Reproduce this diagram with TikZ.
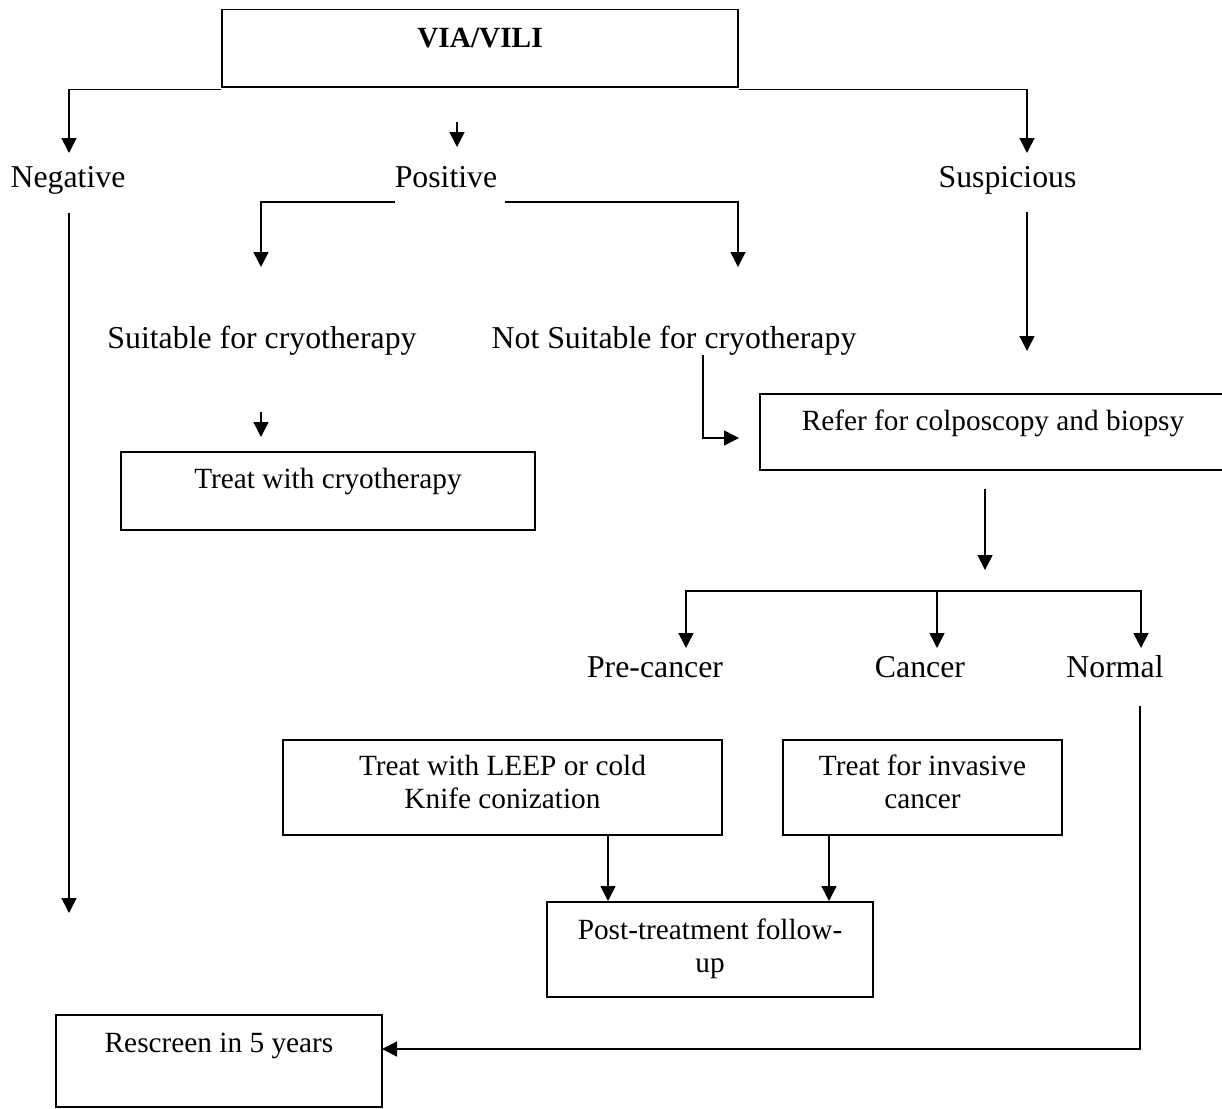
\documentclass[tikz,border=0pt]{standalone}
\usepackage{fontspec}
\setmainfont{Liberation Serif}
\usetikzlibrary{arrows.meta}
\tikzset{
  lw/.style={line width=1.5pt},
  arr/.style={lw, -{Triangle[length=15pt,width=15pt]}},
  plain/.style={font=\fontsize{31.8}{36}\selectfont, inner sep=0pt, anchor=base},
  box/.style={draw, lw, inner sep=0pt, anchor=north, font=\fontsize{29.3}{33}\selectfont},
}
\begin{document}
\begin{tikzpicture}[x=1pt,y=-1pt]
\useasboundingbox (0,0) rectangle (1222,1108);
\fill[white] (0,0) rectangle (1222,1108);

% boxes
\node[box, minimum width=516pt, text height=38pt, text depth=39pt, font=\bfseries\fontsize{29.3}{33}\selectfont] (via) at (480,9) {VIA/VILI};
\node[box, minimum width=414pt, text height=37pt, text depth=41pt] (cryo) at (328,451) {Treat with cryotherapy};
\node[box, minimum width=466pt, text height=37pt, text depth=39pt] (refer) at (993,393) {Refer for colposcopy and biopsy};
\node[box, minimum width=439pt, text height=36pt, text depth=59pt] (leep) at (502.5,739) {\begin{tabular}[t]{@{}c@{}}Treat with LEEP or cold\\Knife conization\end{tabular}};
\node[box, minimum width=279pt, text height=36pt, text depth=59pt] (inv) at (922.5,739) {\begin{tabular}[t]{@{}c@{}}Treat for invasive\\cancer\end{tabular}};
\node[box, minimum width=326pt, text height=38pt, text depth=57pt] (post) at (710,901) {\begin{tabular}[t]{@{}c@{}}Post-treatment follow-\\up\end{tabular}};
\node[box, minimum width=326pt, text height=38pt, text depth=54pt] (resc) at (219,1014) {Rescreen in 5 years};

% plain labels
\node[plain] (neg) at (68,187) {Negative};
\node[plain] (pos) at (446,187) {Positive};
\node[plain] (susp) at (1007.5,187) {Suspicious};
\node[plain] (suit) at (262,348) {Suitable for cryotherapy};
\node[plain] (notsuit) at (674,348) {Not Suitable for cryotherapy};
\node[plain] (pre) at (655,677) {Pre-cancer};
\node[plain] (can) at (920,677) {Cancer};
\node[plain] (nor) at (1115,677) {Normal};

% coordinates
\coordinate (negtip) at (69,153);
\coordinate (susptip) at (1027,153);
\coordinate (posA) at (457,122);
\coordinate (posB) at (457,147);
\coordinate (pl) at (395,202);
\coordinate (pr) at (505,202);
\coordinate (suittip) at (261,267);
\coordinate (nstip) at (738,267);
\coordinate (negA) at (69,213);
\coordinate (negB) at (69,913);
\coordinate (suspA) at (1027,212);
\coordinate (suspB) at (1027,351);
\coordinate (cryA) at (261,412);
\coordinate (cryB) at (261,437);
\coordinate (nsA) at (703,355);
\coordinate (nsB) at (739,438);
\coordinate (refA) at (985,489);
\coordinate (refB) at (985,570);
\coordinate (hub) at (937,591);
\coordinate (preTip) at (686,648);
\coordinate (canTip) at (937,648);
\coordinate (norTip) at (1141,648);
\coordinate (norA) at (1140,706);
\coordinate (rescTip) at (382,1049);
\coordinate (lx) at (608,0);
\coordinate (ix) at (829,0);

% connectors
\draw[arr] ([yshift=-2pt]via.south west) -| (negtip);
\draw[arr] ([yshift=-2pt]via.south east) -| (susptip);
\draw[arr] (posA) -- (posB);
\draw[arr] (pl) -| (suittip);
\draw[arr] (pr) -| (nstip);
\draw[arr] (negA) -- (negB);
\draw[arr] (suspA) -- (suspB);
\draw[arr] (cryA) -- (cryB);
\draw[arr] (nsA) |- (nsB);
\draw[arr] (refA) -- (refB);
\draw[arr] (hub) -| (preTip);
\draw[arr] (hub) -| (norTip);
\draw[arr] (hub) -- (canTip);
\draw[arr] (norA) |- (rescTip);
\draw[arr] (leep.south -| lx) -- (post.north -| lx);
\draw[arr] (inv.south -| ix) -- (post.north -| ix);
\end{tikzpicture}
\end{document}
